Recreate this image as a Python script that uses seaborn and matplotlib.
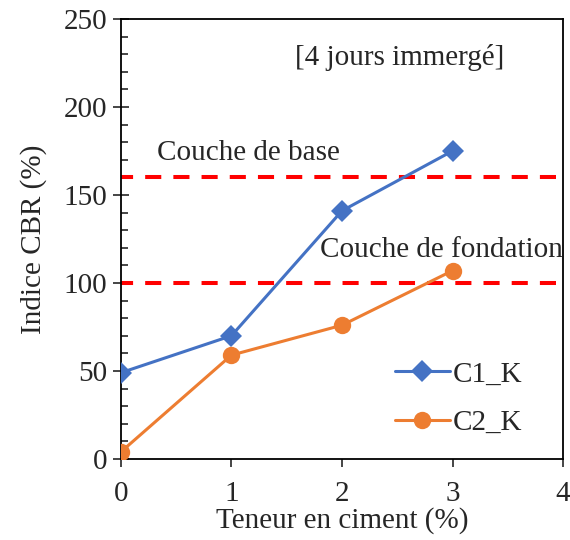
import matplotlib
matplotlib.use("Agg")
import matplotlib.pyplot as plt
import seaborn as sns
import pandas as pd
from matplotlib.ticker import MultipleLocator

ciment = [0, 1, 2, 3]
c1_k = [49, 70, 141, 175]
c2_k = [4, 59, 76, 107]
seuil_base = 160
seuil_fondation = 100

sns.set_style("ticks")
plt.rcParams["font.family"] = ["Liberation Serif", "DejaVu Serif"]
fs = 21

fig = plt.figure(figsize=(5.7, 5.4), dpi=100)
ax = fig.add_axes([0.212, 0.150, 0.776, 0.815])

# seuils couche de base / fondation
ax.axhline(seuil_base, color="#FF0000", lw=2.9, ls=(1, (4, 3)), zorder=1)
ax.axhline(seuil_fondation, color="#FF0000", lw=2.9, ls=(1, (4, 3)), zorder=1)

sns.lineplot(x=ciment, y=c1_k, color="#4472C4", marker="D", markersize=11,
             markeredgewidth=0, lw=2.2, label="C1_K", ax=ax, zorder=3)
sns.lineplot(x=ciment, y=c2_k, color="#ED7D31", marker="o", markersize=12.5,
             markeredgewidth=0, lw=2.2, label="C2_K", ax=ax, zorder=3)

ax.set_xlim(0, 4)
ax.set_ylim(0, 250)
ax.xaxis.set_major_locator(MultipleLocator(1))
ax.yaxis.set_major_locator(MultipleLocator(50))
ax.yaxis.set_minor_locator(MultipleLocator(10))
ax.tick_params(axis="x", which="major", direction="out", length=6, width=1.2, labelsize=fs, pad=10)
ax.tick_params(axis="y", which="major", direction="inout", length=12, width=1.2, labelsize=fs, pad=4)
ax.tick_params(axis="y", which="minor", direction="in", length=5, width=1.2)
for s in ax.spines.values():
    s.set_linewidth(1.3)
    s.set_color("black")

ax.set_xlabel("Teneur en ciment (%)", fontsize=fs, labelpad=0)
ax.set_ylabel("Indice CBR (%)", fontsize=fs, labelpad=12)

ax.text(2.52, 228, "[4 jours immergé]", ha="center", va="center", fontsize=fs)
ax.text(0.33, 174, "Couche de base", ha="left", va="center", fontsize=fs)
ax.text(1.8, 119, "Couche de fondation", ha="left", va="center", fontsize=fs)

ax.legend(frameon=False, loc="upper left",
          bbox_to_anchor=(0.56, 0.282), fontsize=fs,
          handlelength=1.9, handletextpad=0.1, labelspacing=0.75)

fig.savefig("out.png", dpi=100)
